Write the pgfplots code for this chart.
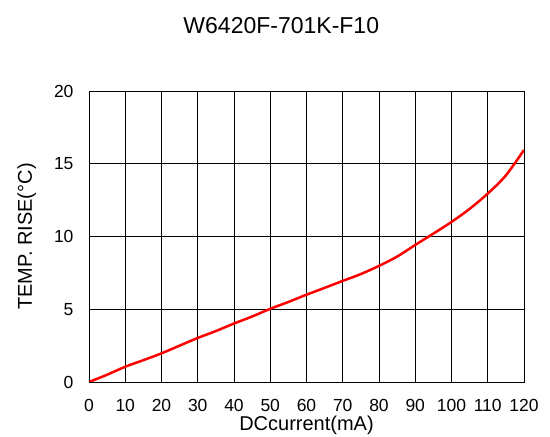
\documentclass[border=0pt]{standalone}
\usepackage{fontspec}
\setmainfont{Liberation Sans}
\usepackage{pgfplots}
\pgfplotsset{compat=1.18}
\usepackage{pgfplotstable}

\pgfplotstableread{
x y
0 0
5 0.5
10 1.05
15 1.5
20 1.97
25 2.5
30 3.03
35 3.5
40 4.02
45 4.5
50 5.03
55 5.5
60 6.0
65 6.47
70 6.95
75 7.42
80 7.98
85 8.62
90 9.42
95 10.2
100 11.0
105 11.9
110 12.95
115 14.2
120 15.95
}\temprise

\begin{document}
\begin{tikzpicture}
\useasboundingbox (-89pt,-55pt) rectangle (461pt,382pt);
\begin{axis}[
    scale only axis,
    width=435pt, height=291pt,
    xmin=0, xmax=120, ymin=0, ymax=20,
    xtick={0,10,...,120}, ytick={0,5,...,20},
    grid=major,
    major grid style={black, line width=0.6pt},
    axis line style={black, line width=0.8pt},
    major tick length=0pt,
    /pgf/number format/assume math mode=true,
    ticklabel style={font=\fontsize{17.5}{17.5}\selectfont},
    xticklabel style={yshift=-14pt},
    yticklabel style={xshift=-12pt},
    xlabel={DCcurrent(mA)},
    ylabel={TEMP. RISE(°C)},
    label style={font=\fontsize{20}{20}\selectfont},
    xlabel style={yshift=3pt},
    ylabel style={yshift=11pt},
    title={W6420F-701K-F10},
    title style={font=\fontsize{23}{23}\selectfont, at={(0.442,1)}, anchor=center, yshift=59pt},
]
\addplot[color=red, line width=2.5pt, smooth] table {\temprise};
\end{axis}
\end{tikzpicture}
\end{document}
